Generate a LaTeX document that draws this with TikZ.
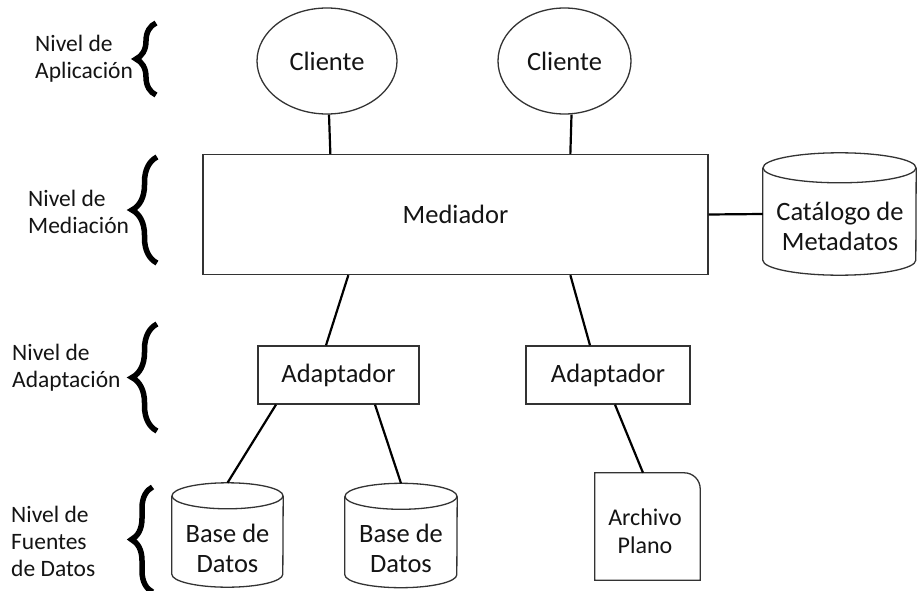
\documentclass[tikz,border=0pt]{standalone}
\usepackage{fontspec}
\setmainfont{Carlito}
\usetikzlibrary{decorations.pathreplacing,shapes.geometric,calc}
\newcommand{\drawcyl}[3]{%
  \draw[shp] ([yshift=-#3]#1.north west) -- ([yshift=#3]#1.south west)
    arc[start angle=180,end angle=360,x radius=#2,y radius=#3]
    -- ([yshift=-#3]#1.north east);
  \draw[shp] ([yshift=-#3]#1.north) ellipse[x radius=#2,y radius=#3];
}
\begin{document}
\begin{tikzpicture}[x=1pt,y=-1pt,
  shp/.style={draw=black!80,line width=1.3pt},
  conn/.style={line width=2.2pt,black},
  ntext/.style={font=\fontsize{26.5}{30}\selectfont,align=center,text=black!92},
  stext/.style={font=\fontsize{24}{28}\selectfont,align=center,text=black!92},
  lab/.style={font=\fontsize{23.5}{27}\selectfont,align=left,anchor=west,inner sep=0pt,text=black!92},
  brc/.style={decorate,decoration={brace,amplitude=#1,aspect=0.5},line width=5.5pt,black},
  holder/.style={rectangle,inner sep=0pt}
]
\path[use as bounding box,fill=white] (0,0) rectangle (918,591);

% level labels
\node[lab] (l1) at (35,58.5) {Nivel de\\Aplicación};
\node[lab] (l2) at (28,212) {Nivel de\\Mediación};
\node[lab] (l3) at (12,368) {Nivel de\\Adaptación};
\node[lab] (l4) at (11,541) {Nivel de\\Fuentes\\de Datos};

% braces
\draw[brc=20pt] (156,95) -- (156,23);
\draw[brc=25pt] (157,263) -- (157,157);
\draw[brc=25pt] (157,431) -- (157,324);
\draw[brc=21pt] (152.5,592) -- (152.5,487);

% clients
\node[shp,ellipse,minimum width=140pt,minimum height=106pt,inner sep=0pt,ntext] (c1) at (327,61) {Cliente};
\node[shp,ellipse,minimum width=133pt,minimum height=106pt,inner sep=0pt,ntext] (c2) at (564.5,61) {Cliente};

% mediator
\node[shp,rectangle,minimum width=505pt,minimum height=120pt,ntext] (m) at (455.5,214.5) {Mediador};

% catalog
\node[holder,minimum width=153pt,minimum height=122pt] (cat) at (839.5,214) {};
\drawcyl{cat}{76.5pt}{15pt}
\node[ntext] (catt) at (840,226) {Catálogo de\\Metadatos};

% adapters
\node[shp,rectangle,minimum width=161pt,minimum height=58pt,ntext] (a1) at (338.5,375) {Adaptador};
\node[shp,rectangle,minimum width=164pt,minimum height=58pt,ntext] (a2) at (608,375) {Adaptador};

% data sources
\node[holder,minimum width=111pt,minimum height=104pt] (b1) at (227.5,535) {};
\drawcyl{b1}{55.5pt}{13pt}
\node[ntext] (b1t) at (227.5,548) {Base de\\Datos};
\node[holder,minimum width=112pt,minimum height=104pt] (b2) at (401,535.5) {};
\drawcyl{b2}{56pt}{13pt}
\node[ntext] (b2t) at (401,548.5) {Base de\\Datos};

\node[holder,minimum width=105pt,minimum height=107pt] (ar) at (647.5,526.5) {};
\draw[shp] (ar.south west) -- (ar.north west) -- ([xshift=-16pt]ar.north east)
  arc[start angle=90,end angle=0,radius=16pt] -- (ar.south east) -- cycle;
\node[stext] (art) at (645,531) {Archivo\\Plano};

% connectors
\draw[conn] ([xshift=2pt]c1.south) -- ([xshift=128pt]m.north west);
\draw[conn] ([xshift=7pt]c2.south) -- ([xshift=368pt]m.north west);
\draw[conn] (m.east) -- (cat.west);
\draw[conn] ([xshift=146pt]m.south west) -- ([xshift=-12.5pt]a1.north);
\draw[conn] ([xshift=368pt]m.south west) -- ([xshift=-18pt]a2.north);
\draw[conn] ([xshift=-62.5pt]a1.south) -- (b1.north);
\draw[conn] ([xshift=36.5pt]a1.south) -- (b2.north);
\draw[conn] ([xshift=7pt]a2.south) -- ([xshift=-4.5pt]ar.north);
\end{tikzpicture}
\end{document}
